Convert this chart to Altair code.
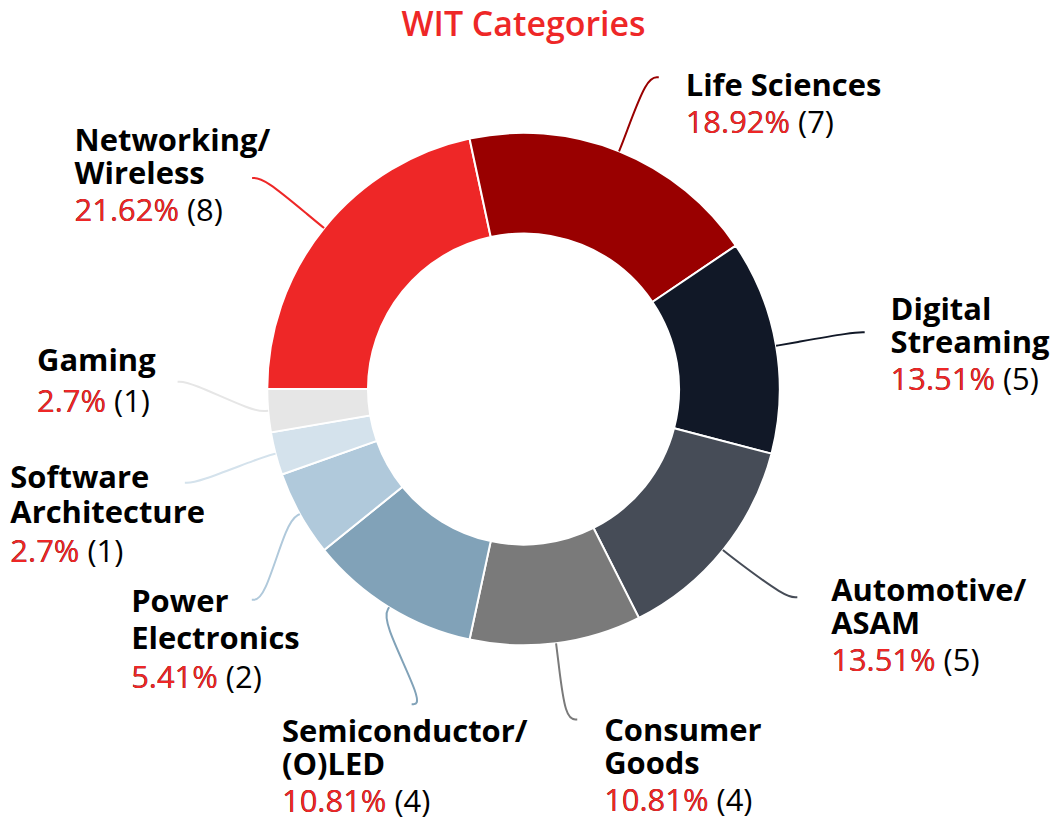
import math
import altair as alt
import pandas as pd

# ---- data -------------------------------------------------------------
categories = ["Networking/Wireless", "Life Sciences", "Digital Streaming",
              "Automotive/ASAM", "Consumer Goods", "Semiconductor/(O)LED",
              "Power Electronics", "Software Architecture", "Gaming"]
label_lines = [["Networking/", "Wireless"], ["Life Sciences"], ["Digital", "Streaming"],
               ["Automotive/", "ASAM"], ["Consumer", "Goods"], ["Semiconductor/", "(O)LED"],
               ["Power", "Electronics"], ["Software", "Architecture"], ["Gaming"]]
counts = [8, 7, 5, 5, 4, 4, 2, 1, 1]
colors = ["#EE2727", "#990000", "#111827", "#464C57", "#7A7A7A",
          "#81A2B8", "#B0C9DB", "#D4E2EC", "#E6E6E6"]
title_text = "WIT Categories"

# ---- layout (page pixels) --------------------------------------------
W, H = 1034, 762          # plot area; arc centred at its middle
OX, OY = 8, 8             # page margin
CX, CY = OX + W / 2, OY + H / 2
R_OUT, R_IN, R_LAB = 257, 156, 337
label_shift_y = [0, 0, 0, -3, -3, 29, 47, 9, -36]
label_nudge_x = [0, 0, 0, 0, -18, 15, 0, -6, 0]
text_off = [(-178, -27), (27, 19), (26, -12), (34, 4), (27, 22),
            (-130, 38), (-121, 12), (-175, 5), (-141, -11)]
name_step = [33, 33, 33, 33, 33, 33, 37, 35, 33]
pct_step = [37, 37, 37, 37, 37, 37, 39, 40, 41]
FS = 31

total = sum(counts)
arc_rows, line_rows, name_rows, pct_rows = [], [], [], []
cum = 0
for i, (cat, n) in enumerate(zip(categories, counts)):
    arc_rows.append({"cat": cat, "n": n, "idx": i, "col": colors[i]})
    mid = -90 + (cum + n / 2) * 360 / total
    cum += n
    a = math.radians(mid)
    s, c = math.sin(a), -math.cos(a)
    side = 1 if s > 0 else -1
    ey = CY + R_LAB * c + label_shift_y[i]
    dy = ey - CY
    ex = CX + side * (math.sqrt(max(R_LAB ** 2 - dy ** 2, 0)) + 10) + label_nudge_x[i]
    pts = [(CX + R_OUT * s, CY + R_OUT * c),
           (CX + (R_OUT + 14) * s, CY + (R_OUT + 14) * c),
           (ex - side * 12, ey),
           (ex, ey)]
    for k, (px, py) in enumerate(pts):
        line_rows.append({"cat": cat, "k": k, "x": px, "y": py, "col": colors[i]})
    tx, ty = ex + text_off[i][0], ey + text_off[i][1]
    for j, t in enumerate(label_lines[i]):
        name_rows.append({"x": tx, "y": ty + j * name_step[i], "t": t})
    pct = f"{round(100 * n / total, 2):g}%"
    py_ = ty + (len(label_lines[i]) - 1) * name_step[i] + pct_step[i]
    pct_rows.append({"x": tx, "y": py_, "full": f"{pct} ({n})", "pct": pct})

arc_df = pd.DataFrame(arc_rows)
line_df = pd.DataFrame(line_rows)
name_df = pd.DataFrame(name_rows)
pct_df = pd.DataFrame(pct_rows)
title_df = pd.DataFrame([{"x": CX, "y": 35, "t": title_text}])

xs = alt.Scale(domain=[OX, OX + W], range=[0, W])
ys = alt.Scale(domain=[OY, OY + H], range=[0, H])

arcs = alt.Chart(arc_df).mark_arc(
    innerRadius=R_IN, outerRadius=R_OUT, stroke="white", strokeWidth=2
).encode(
    theta=alt.Theta("n:Q", stack=True, scale=alt.Scale(range=[-math.pi / 2, 3 * math.pi / 2])),
    order=alt.Order("idx:Q"),
    color=alt.Color("col:N", scale=None),
)

connectors = alt.Chart(line_df).mark_line(interpolate="basis", strokeWidth=2).encode(
    x=alt.X("x:Q", scale=xs, axis=None),
    y=alt.Y("y:Q", scale=ys, axis=None),
    detail="cat:N",
    order="k:Q",
    color=alt.Color("col:N", scale=None),
)

names = alt.Chart(name_df).mark_text(
    align="left", baseline="alphabetic", font="Open Sans", fontWeight="bold",
    fontSize=FS, color="#000000"
).encode(x=alt.X("x:Q", scale=xs, axis=None), y=alt.Y("y:Q", scale=ys, axis=None), text="t:N")

pct_full = alt.Chart(pct_df).mark_text(
    align="left", baseline="alphabetic", font="Open Sans", fontWeight="normal",
    fontSize=FS, color="#000000"
).encode(x=alt.X("x:Q", scale=xs, axis=None), y=alt.Y("y:Q", scale=ys, axis=None), text="full:N")

pct_red = alt.Chart(pct_df).mark_text(
    align="left", baseline="alphabetic", font="Open Sans", fontWeight="normal",
    fontSize=FS, color="#EE2727"
).encode(x=alt.X("x:Q", scale=xs, axis=None), y=alt.Y("y:Q", scale=ys, axis=None), text="pct:N")

title = alt.Chart(title_df).mark_text(
    align="center", baseline="alphabetic", font="Open Sans", fontWeight=600,
    fontSize=34, color="#EE2727"
).encode(x=alt.X("x:Q", scale=xs, axis=None), y=alt.Y("y:Q", scale=ys, axis=None), text="t:N")

chart = alt.layer(arcs, connectors, names, pct_full, pct_red, title).properties(
    width=W, height=H, padding=0
).configure_view(stroke=None)

chart.save("out.html", embed_options={"renderer": "svg", "actions": False})
